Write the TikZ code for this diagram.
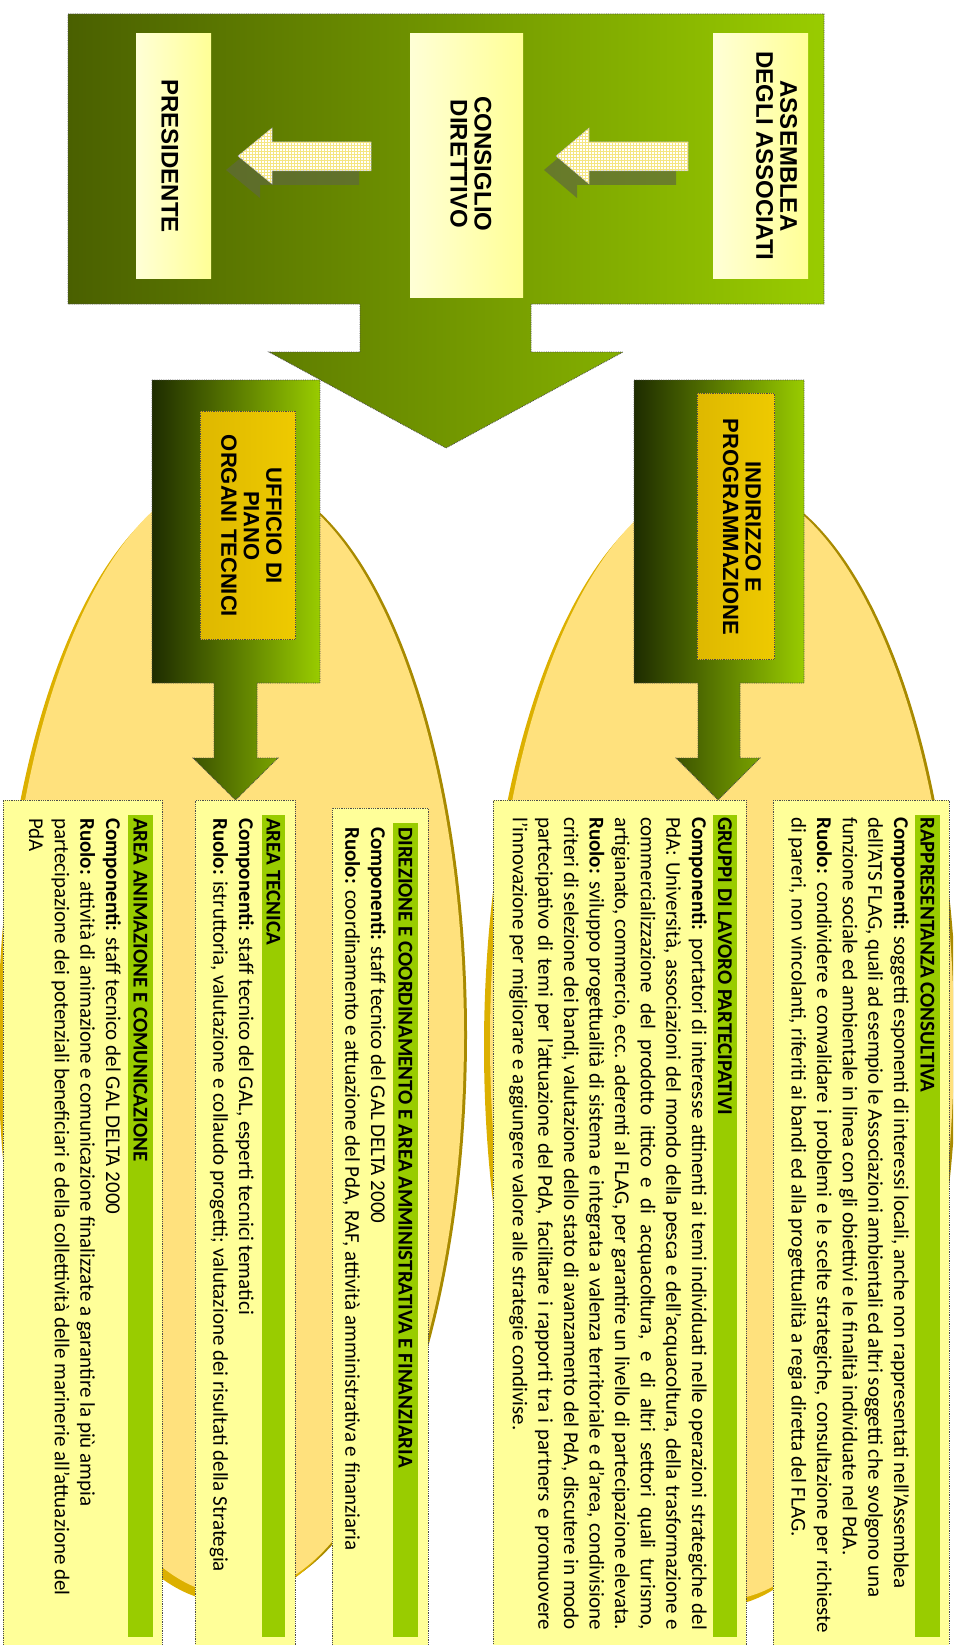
\documentclass[tikz,border=0pt]{standalone}
\usepackage{fontspec}
\setmainfont{Carlito}
\newfontfamily\arialf{Liberation Sans}
\usetikzlibrary{patterns,calc}
\definecolor{gA}{RGB}{74,96,0}
\definecolor{gB}{RGB}{153,204,0}
\definecolor{gDark}{RGB}{30,44,0}
\definecolor{gMid}{RGB}{85,115,0}
\definecolor{lyL}{RGB}{255,255,214}
\definecolor{lyR}{RGB}{255,255,150}
\definecolor{goldL}{RGB}{222,184,0}
\definecolor{goldR}{RGB}{238,202,0}
\definecolor{ellFill}{RGB}{255,225,125}
\definecolor{ellGold}{RGB}{220,176,0}
\definecolor{ellDark}{RGB}{168,138,0}
\definecolor{boxY}{RGB}{255,255,153}
\definecolor{barG}{RGB}{153,204,0}
\definecolor{shadowC}{RGB}{95,105,60}
\definecolor{gridC}{RGB}{245,230,130}
\begin{document}
\begin{tikzpicture}[x=1pt,y=-1pt,
  dotb/.style={draw=black!70, densely dotted, line width=0.8pt},
  topshade/.style={left color=gA, right color=gB},
  secshade/.style={left color=gDark, middle color=gMid, right color=gB},
  lightbox/.style={left color=lyL, right color=lyR, inner sep=0, anchor=north west},
  goldbox/.style={left color=goldL, right color=goldR, dotb, inner sep=0, anchor=north west},
  toplabel/.style={rotate=-90, align=center, inner sep=0, font=\arialf\bfseries\fontsize{24}{24}\selectfont},
  goldlabel/.style={rotate=-90, align=center, inner sep=0, font=\arialf\bfseries\fontsize{22}{22.5}\selectfont},
  textbox/.style={fill=boxY, dotb, inner sep=0, anchor=north west},
  hbar/.style={fill=barG, inner sep=0, anchor=north west},
  headtxt/.style={rotate=-90, anchor=base west, inner sep=0, font=\bfseries\fontsize{21}{25.6}\selectfont},
  bodytxt/.style={rotate=-90, anchor=base west, inner sep=0, font=\fontsize{21}{25.6}\selectfont},
  smallarrow/.style={fill=white, postaction={pattern=grid, pattern color=gridC}, draw=black!35, line width=0.5pt},
  arrowshadow/.style={fill=shadowC, opacity=0.7}
]
\useasboundingbox (0,0) rectangle (953,1645);
\clip (0,0) rectangle (953,1645);

% ellipses
\fill[ellDark] (237,1035) ellipse [x radius=230, y radius=560];
\fill[ellGold] (228,1042) ellipse [x radius=230, y radius=560];
\fill[ellFill] (234,1035) ellipse [x radius=230, y radius=560];
\fill[ellDark] (725,1040) ellipse [x radius=232, y radius=560];
\fill[ellGold] (716,1047) ellipse [x radius=232, y radius=560];
\fill[ellFill] (722,1040) ellipse [x radius=232, y radius=560];

% top box with big arrow
\path[topshade, dotb] (68,14) -- (824,14) -- (824,304) -- (531,304) -- (531,352) -- (623,352)
  -- (446,448) -- (269,352) -- (360,352) -- (360,304) -- (68,304) -- cycle;
\node[lightbox, minimum width=95pt, minimum height=245pt] (assbox) at (713,33) {};
\node[lightbox, minimum width=113pt, minimum height=264pt] (consbox) at (410,33) {};
\node[lightbox, minimum width=75pt, minimum height=245pt] (presbox) at (136,33) {};
\node[toplabel] (assemblea) at (776.5,156) {ASSEMBLEA\\DEGLI ASSOCIATI};
\node[toplabel] (consiglio) at (471,164) {CONSIGLIO\\DIRETTIVO};
\node[toplabel] (presidente) at (170,156) {PRESIDENTE};

% small arrows
\fill[arrowshadow] (544,170) -- (577,142) -- (577,156) -- (676,156) -- (676,185) -- (577,185) -- (577,198) -- cycle;
\path[smallarrow] (556,156) -- (589,128) -- (589,142) -- (688,142) -- (688,171) -- (589,171) -- (589,184) -- cycle;
\fill[arrowshadow] (226,170) -- (260,142) -- (260,156) -- (359,156) -- (359,185) -- (260,185) -- (260,198) -- cycle;
\path[smallarrow] (238,156) -- (272,128) -- (272,142) -- (371,142) -- (371,171) -- (272,171) -- (272,184) -- cycle;

% second level
\path[secshade, dotb] (152,380) -- (320,380) -- (320,683) -- (257,683) -- (257,758) -- (278,758)
  -- (235.5,800) -- (193,758) -- (214,758) -- (214,683) -- (152,683) -- cycle;
\path[secshade, dotb] (634,380) -- (804,380) -- (804,683) -- (740,683) -- (740,758) -- (760,758)
  -- (718,800) -- (676,758) -- (698,758) -- (698,683) -- (634,683) -- cycle;
\node[goldbox, minimum width=95pt, minimum height=228pt] (uffbox) at (200,411) {};
\node[goldbox, minimum width=77pt, minimum height=266pt] (indbox) at (697,393) {};
\node[goldlabel] (ufficio) at (251.5,526) {UFFICIO DI\\PIANO\\ORGANI TECNICI};
\node[goldlabel] (indirizzo) at (742,527) {INDIRIZZO E\\PROGRAMMAZIONE};

% text boxes
\node[textbox, minimum width=176pt, minimum height=860pt] (rapp) at (773,800) {};
\node[textbox, minimum width=253pt, minimum height=860pt] (gruppi) at (493,800) {};
\node[textbox, minimum width=96pt, minimum height=852pt] (direz) at (332,808) {};
\node[textbox, minimum width=100pt, minimum height=860pt] (tecn) at (195,800) {};
\node[textbox, minimum width=159pt, minimum height=860pt] (anim) at (3,800) {};

\node[hbar, minimum width=25pt, minimum height=822pt] (rappbar) at (915,815) {};
\node[hbar, minimum width=24pt, minimum height=822pt] (gruppibar) at (713,815) {};
\node[hbar, minimum width=25pt, minimum height=814pt] (direzbar) at (393,823) {};
\node[hbar, minimum width=23pt, minimum height=822pt] (tecnbar) at (262,815) {};
\node[hbar, minimum width=25pt, minimum height=822pt] (animbar) at (128,815) {};

\node[headtxt] (rapph) at (920.7,817) {RAPPRESENTANZA CONSULTIVA};
\node[headtxt] (gruppih) at (718.2,817) {GRUPPI DI LAVORO PARTECIPATIVI};
\node[headtxt] (direzh) at (398.7,827) {DIREZIONE E COORDINAMENTO E AREA AMMINISTRATIVA E FINANZIARIA};
\node[headtxt] (tecnh) at (266.7,818) {AREA TECNICA};
\node[headtxt] (animh) at (133.7,818) {AREA ANIMAZIONE E COMUNICAZIONE};

\node[bodytxt] (rappt) at (894,817) {\parbox[t]{1000pt}{%
\textbf{Componenti:} soggetti esponenti di interessi locali, anche non rappresentati nell’Assemblea\\
dell’ATS FLAG, quali ad esempio le Associazioni ambientali ed altri soggetti che svolgono una\\
funzione sociale ed ambientale in linea con gli obiettivi e le finalità individuate nel PdA.\\
\makebox[816pt][s]{\textbf{Ruolo:} condividere e convalidare i problemi e le scelte strategiche, consultazione per richieste}\\
di pareri, non vincolanti, riferiti ai bandi ed alla progettualità a regia diretta del FLAG.}};

\node[bodytxt] (gruppit) at (692,817) {\parbox[t]{1000pt}{%
\makebox[813pt][s]{\textbf{Componenti:} portatori di interesse attinenti ai temi individuati nelle operazioni strategiche del}\\
\makebox[813pt][s]{PdA: Università, associazioni del mondo della pesca e dell’acquacoltura, della trasformazione e}\\
\makebox[813pt][s]{commercializzazione del prodotto ittico e di acquacoltura, e di altri settori quali turismo,}\\
\makebox[813pt][s]{artigianato, commercio, ecc. aderenti al FLAG, per garantire un livello di partecipazione elevata.}\\
\makebox[813pt][s]{\textbf{Ruolo:} sviluppo progettualità di sistema e integrata a valenza territoriale e d’area, condivisione}\\
\makebox[813pt][s]{criteri di selezione dei bandi, valutazione dello stato di avanzamento del PdA, discutere in modo}\\
\makebox[813pt][s]{partecipativo di temi per l’attuazione del PdA, facilitare i rapporti tra i partners e promuovere}\\
l’innovazione per migliorare e aggiungere valore alle strategie condivise.}};

\node[bodytxt] (direzt) at (371,827) {\parbox[t]{1000pt}{%
\textbf{Componenti:} staff tecnico del GAL DELTA 2000\\
\textbf{Ruolo:} coordinamento e attuazione del PdA, RAF, attività amministrativa e finanziaria}};

\node[bodytxt] (tecnt) at (239,818) {\parbox[t]{1000pt}{%
\textbf{Componenti:} staff tecnico del GAL, esperti tecnici tematici\\
\textbf{Ruolo:} istruttoria, valutazione e collaudo progetti; valutazione dei risultati della Strategia}};

\node[bodytxt] (animt) at (106,818) {\parbox[t]{1000pt}{%
\textbf{Componenti:} staff tecnico del GAL DELTA 2000\\
\textbf{Ruolo:} attività di animazione e comunicazione finalizzate a garantire la più ampia\\
partecipazione dei potenziali beneficiari e della collettività delle marinerie all’attuazione del\\
PdA}};
\end{tikzpicture}
\end{document}
